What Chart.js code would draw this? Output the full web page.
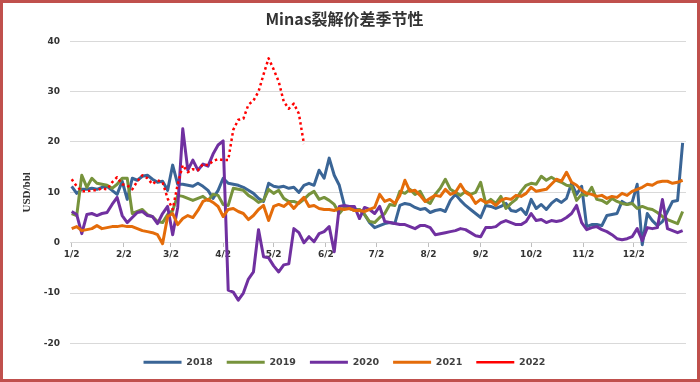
<!DOCTYPE html>
<html>
<head>
<meta charset="utf-8">
<script src="https://cdn.jsdelivr.net/npm/chart.js@4.4.1/dist/chart.umd.min.js"></script>
<style>
  html, body { margin: 0; padding: 0; background: #fff; }
  #box { width: 700px; height: 382px; box-sizing: border-box; border: 3px solid #C0504D; background: #fff; }
  #box canvas { display: block; }
</style>
</head>
<body>
<div id="box"><canvas id="chart" width="694" height="376"></canvas></div>
<script>
// day of year (Jan 1 = 0), one reading every 3 days
const days = [1, 4, 7, 10, 13, 16, 19, 22, 25, 28, 31, 34, 37, 40, 43, 46, 49, 52, 55, 58,
  61, 64, 67, 70, 73, 76, 79, 82, 85, 88, 91, 94, 97, 100, 103, 106, 109, 112, 115, 118,
  121, 124, 127, 130, 133, 136, 139, 142, 145, 148, 151, 154, 157, 160, 163, 166, 169, 172, 175, 178,
  181, 184, 187, 190, 193, 196, 199, 202, 205, 208, 211, 214, 217, 220, 223, 226, 229, 232, 235, 238,
  241, 244, 247, 250, 253, 256, 259, 262, 265, 268, 271, 274, 277, 280, 283, 286, 289, 292, 295, 298,
  301, 304, 307, 310, 313, 316, 319, 322, 325, 328, 331, 334, 337, 340, 343, 346, 349, 352, 355, 358,
  361, 364];

// x-axis ticks (day of year) and their labels
const monthTicks = [1, 32, 60, 91, 121, 152, 182, 213, 244, 274, 305, 335];
const tickLabels = ['1/2', '2/2', '3/2', '4/2', '5/2', '6/2', '7/2', '8/2', '9/2', '10/2', '11/2', '12/2'];

const years = ['2018', '2019', '2020', '2021', '2022'];

const s2018 = [11.2, 9.8, 10.6, 10.6, 10.8, 10.6, 11.0, 11.2, 10.4, 9.6,
  12.2, 8.6, 12.8, 12.4, 13.2, 13.4, 12.6, 12.0, 12.2, 10.4,
  15.4, 11.6, 11.6, 11.4, 11.2, 11.8, 11.2, 10.4, 8.8, 10.4,
  12.8, 11.8, 11.6, 11.4, 11.0, 10.4, 9.8, 8.8, 8.2, 11.8,
  11.2, 11.0, 11.2, 10.8, 11.0, 10.0, 11.4, 11.8, 11.4, 14.4,
  12.8, 16.8, 13.4, 11.4, 7.4, 6.8, 6.6, 6.6, 5.6, 4.0,
  3.0, 3.4, 3.8, 4.0, 3.8, 7.4, 7.8, 7.6, 7.0, 6.6,
  6.8, 6.0, 6.4, 6.6, 6.2, 8.4, 9.6, 8.4, 7.4, 6.6,
  5.8, 5.0, 7.4, 7.2, 6.8, 7.2, 7.8, 6.4, 6.2, 6.8,
  5.6, 8.6, 6.8, 7.6, 6.6, 7.8, 8.6, 8.0, 8.8, 11.8,
  9.6, 11.2, 3.2, 3.6, 3.6, 3.4, 5.4, 5.6, 5.8, 8.2,
  7.6, 8.0, 11.6, -0.4, 5.8, 4.4, 3.4, 4.2, 6.2, 8.2, 8.4, 19.8];

const s2019 = [5.8, 5.4, 13.4, 11.0, 12.8, 11.8, 11.6, 11.4, 10.8, 11.6,
  12.8, 12.8, 5.8, 6.2, 6.6, 5.6, 5.2, 4.2, 4.0, 5.6,
  6.4, 9.4, 9.2, 8.8, 8.4, 8.8, 9.2, 8.4, 9.6, 9.4,
  7.6, 7.4, 10.8, 10.6, 10.4, 9.4, 8.8, 8.0, 8.4, 10.6,
  9.8, 10.4, 8.8, 8.2, 8.2, 7.8, 8.6, 9.6, 10.2, 8.6,
  9.0, 8.4, 7.6, 5.8, 7.0, 6.8, 6.4, 6.6, 5.6, 4.2,
  4.0, 5.0, 5.8, 7.6, 7.4, 10.2, 9.8, 10.6, 9.6, 10.2,
  8.4, 7.8, 9.6, 10.8, 12.6, 10.6, 10.0, 9.4, 10.2, 9.6,
  10.0, 12.0, 7.8, 8.6, 7.8, 9.2, 6.8, 7.8, 8.6, 10.2,
  11.4, 11.8, 11.6, 13.2, 12.4, 13.0, 12.4, 12.0, 11.4, 11.2,
  8.4, 9.6, 9.4, 11.0, 8.6, 8.4, 7.8, 8.8, 8.2, 7.8,
  7.6, 7.8, 6.8, 7.2, 6.8, 6.6, 6.0, 5.2, 4.6, 4.2, 3.8, 6.2];

const s2020 = [6.2, 5.6, 1.8, 5.6, 5.8, 5.4, 5.8, 6.0, 7.6, 9.0,
  5.4, 4.0, 5.0, 6.0, 6.2, 5.4, 5.2, 3.8, 5.8, 7.2,
  1.6, 7.0, 22.6, 14.4, 16.4, 14.4, 15.6, 15.2, 17.6, 19.4,
  20.2, -9.4, -9.8, -11.4, -10.0, -7.2, -5.8, 2.6, -2.8, -3.0,
  -4.6, -5.8, -4.4, -4.2, 2.8, 2.0, 0.0, 1.2, 0.2, 1.8,
  2.2, 3.2, -1.8, 7.2, 7.4, 7.2, 7.2, 4.8, 7.0, 6.6,
  5.8, 7.2, 4.2, 4.0, 3.8, 3.6, 3.6, 3.2, 2.8, 3.4,
  3.4, 3.0, 1.6, 1.8, 2.0, 2.2, 2.4, 2.8, 2.6, 2.0,
  1.4, 1.2, 3.0, 3.0, 3.2, 4.0, 4.4, 4.0, 3.6, 3.6,
  4.2, 5.8, 4.4, 4.6, 4.0, 4.4, 4.2, 4.4, 5.0, 5.8,
  7.4, 4.0, 2.6, 3.0, 3.2, 2.6, 2.2, 1.6, 0.8, 0.6,
  0.8, 1.2, 2.8, 0.4, 3.0, 2.8, 3.0, 8.6, 2.8, 2.4, 2.0, 2.4];

const s2021 = [2.8, 3.2, 2.4, 2.6, 2.8, 3.4, 2.8, 3.0, 3.2, 3.2,
  3.4, 3.2, 3.2, 2.8, 2.4, 2.2, 2.0, 1.6, -0.2, 5.2,
  5.8, 3.6, 4.8, 5.4, 5.0, 6.4, 8.2, 8.6, 8.0, 7.2,
  5.2, 6.6, 6.8, 6.2, 5.8, 4.6, 5.4, 6.6, 7.4, 4.4,
  7.2, 7.6, 7.2, 8.0, 6.8, 8.0, 9.0, 7.2, 7.4, 6.8,
  6.6, 6.6, 6.4, 6.8, 6.6, 6.8, 6.4, 6.4, 6.2, 6.6,
  7.0, 9.6, 8.2, 8.6, 7.8, 9.4, 12.4, 10.2, 10.4, 9.4,
  8.2, 8.8, 9.4, 9.2, 10.6, 9.6, 10.0, 11.6, 10.0, 9.4,
  7.8, 8.6, 8.0, 8.2, 7.4, 8.4, 8.8, 8.6, 9.4, 9.2,
  9.8, 11.0, 10.2, 10.4, 10.6, 11.6, 12.6, 12.2, 14.0, 12.0,
  11.4, 10.4, 9.8, 9.6, 9.2, 9.4, 8.8, 9.2, 9.0, 9.8,
  9.4, 10.2, 10.6, 11.0, 11.6, 11.4, 12.0, 12.2, 12.2, 11.8, 12.0, 12.4];

const s2022 = [12.6, 11.2, 10.2, 10.2, 10.4, 10.4, 10.8, 10.6, 12.0, 13.0,
  11.6, 11.4, 10.6, 12.2, 13.4, 12.8, 11.6, 12.4, 12.0, 8.8,
  6.6, 11.6, 15.4, 14.0, 14.6, 14.4, 15.6, 15.4, 16.2, 16.6,
  16.4, 16.4, 22.4, 24.4, 24.6, 27.4, 28.2, 30.0, 33.4, 36.6,
  34.4, 32.0, 28.0, 26.6, 27.6, 25.6, 19.6];

const seriesData = [s2018, s2019, s2020, s2021, s2022];
const colors = ['#3A6596', '#77933C', '#7030A0', '#E46C0A', '#FF0000'];

const tickFont = { family: 'DejaVu Sans', size: 9, weight: 'bold' };

const datasets = years.map((y, i) => ({
    label: y,
    data: seriesData[i],
    borderColor: colors[i],
    backgroundColor: colors[i],
    borderWidth: i === 4 ? 2.5 : 3,
    borderDash: i === 4 ? [2.5, 3] : [],
    borderJoinStyle: 'round',
    pointRadius: 0,
    tension: 0,
    order: 5 - i, // later years on top, like the original
}));

new Chart(document.getElementById('chart').getContext('2d'), {
    type: 'line',
    data: { labels: days, datasets: datasets },
    options: {
        responsive: false,
        animation: false,
        layout: { padding: { left: 0, right: 11, top: 0, bottom: 2 } },
        plugins: {
            title: {
                display: true,
                text: 'Minas裂解价差季节性',
                color: '#333',
                font: { family: 'Noto Sans CJK SC', size: 16, weight: 'bold' },
                padding: { top: 6, bottom: 13 },
            },
            legend: {
                position: 'bottom',
                labels: {
                    usePointStyle: true,
                    pointStyle: 'line',
                    pointStyleWidth: 38,
                    padding: 14,
                    color: '#404040',
                    font: { family: 'DejaVu Sans', size: 9.5, weight: 'bold' },
                    sort: (a, b) => a.datasetIndex - b.datasetIndex,
                },
            },
            tooltip: { enabled: false },
        },
        scales: {
            x: {
                type: 'linear',
                min: 0,
                max: 366,
                position: { y: 0 },
                afterBuildTicks: scale => {
                    scale.ticks = monthTicks.map(v => ({ value: v }));
                },
                ticks: {
                    autoSkip: false,
                    maxRotation: 0,
                    padding: 3,
                    color: '#333',
                    font: tickFont,
                    callback: (value) => tickLabels[monthTicks.indexOf(value)],
                },
                grid: { drawOnChartArea: false, tickLength: 4, color: '#BFBFBF' },
                border: { display: true, color: '#D9D9D9' },
            },
            y: {
                min: -20,
                max: 40,
                afterFit: scale => { scale.width = 67; },
                ticks: { stepSize: 10, padding: 10, color: '#333', font: tickFont },
                grid: { color: '#D9D9D9', drawTicks: false },
                border: { display: false },
                title: {
                    display: true,
                    text: 'USD/bbl',
                    color: '#333',
                    font: { family: 'Liberation Serif', size: 11, weight: 'bold' },
                    padding: { top: 18, bottom: 0 },
                },
            },
        },
    },
});
</script>
</body>
</html>
